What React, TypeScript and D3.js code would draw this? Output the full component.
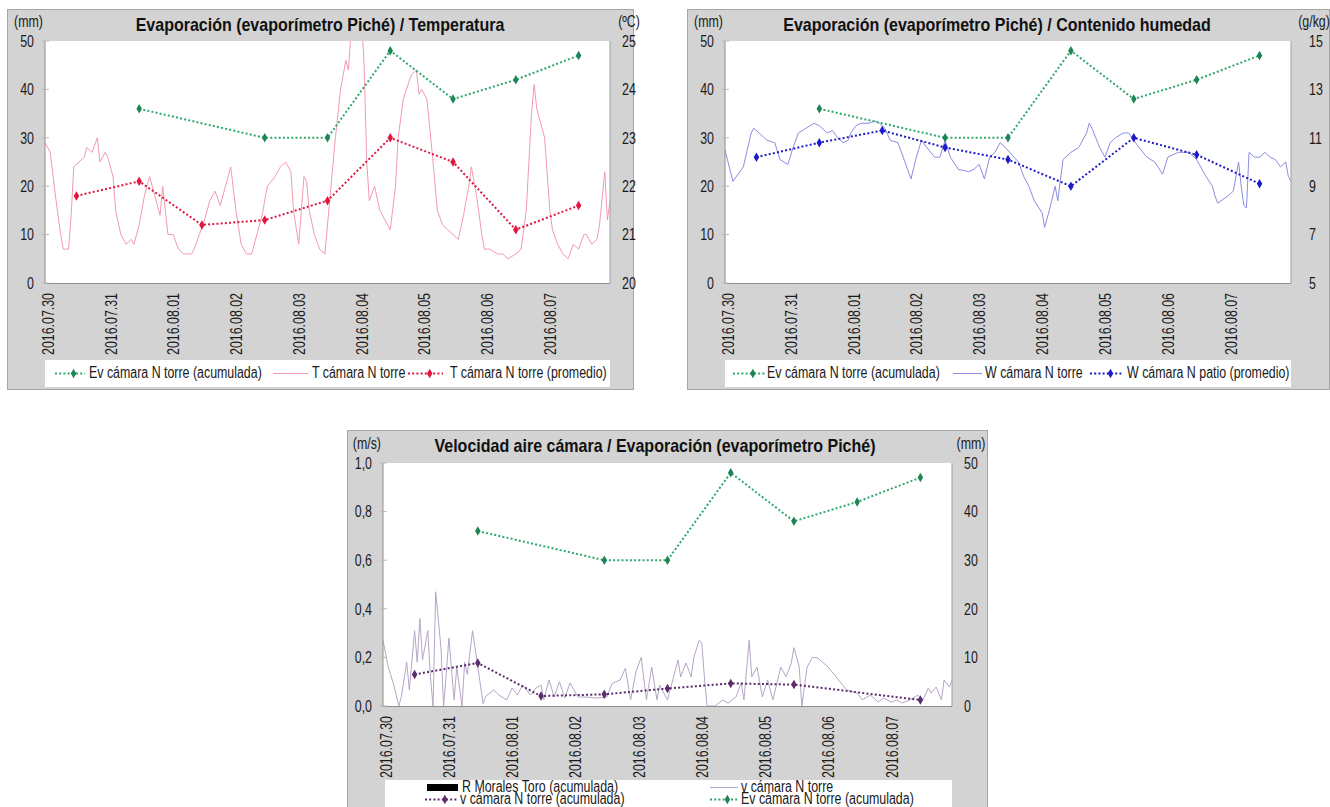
import React from 'react';
import * as d3 from 'd3';

const FONT = "'Liberation Sans', Arial, sans-serif";
const NARROW = 0.775;
const TEXT_SIZE = 16;

const DAY_LABELS = ['2016.07.30', '2016.07.31', '2016.08.01', '2016.08.02', '2016.08.03', '2016.08.04', '2016.08.05', '2016.08.06', '2016.08.07'];
const START = new Date(2016, 6, 30);
const END = new Date(2016, 7, 8);

// Piché evaporimeter, accumulated evaporation (mm), read at noon
const EV_DATES = ['2016-07-31', '2016-08-02', '2016-08-03', '2016-08-04', '2016-08-05', '2016-08-06', '2016-08-07'];
const EV_MM = [36, 30, 30, 48, 38, 42, 47];

// Daily means
const AVG_DATES = ['2016-07-30', '2016-07-31', '2016-08-01', '2016-08-02', '2016-08-03', '2016-08-04', '2016-08-05', '2016-08-06', '2016-08-07'];
const T_AVG = [21.8, 22.1, 21.2, 21.3, 21.7, 23.0, 22.5, 21.1, 21.6];
const W_AVG = [10.2, 10.8, 11.3, 10.6, 10.1, 9.0, 11.0, 10.3, 9.1];
const V_AVG_DATES = ['2016-07-30', '2016-07-31', '2016-08-01', '2016-08-02', '2016-08-03', '2016-08-04', '2016-08-05', '2016-08-07'];
const V_AVG = [0.13, 0.177, 0.041, 0.048, 0.072, 0.093, 0.088, 0.025];

// Chamber records: [hours since 30 Jul 00:00, value]
const T_RAW: [number, number][] = [
  [0, 22.9], [2, 22.7], [4, 21.8], [6, 21.0], [7, 20.7], [9, 20.7], [10, 21.4], [11, 22.4], [13, 22.5], [15, 22.6],
  [16, 22.8], [18, 22.7], [20, 23.0], [21, 22.5], [23, 22.7], [24, 22.6], [26, 22.2], [27, 21.5], [29, 21.0], [31, 20.8],
  [33, 20.9], [34, 20.8], [36, 21.2], [38, 21.8], [40, 22.2], [42, 21.8], [44, 21.4], [45, 22.0], [47, 21.0], [49, 21.0],
  [51, 20.7], [53, 20.6], [56, 20.6], [57, 20.7], [59, 21.0], [61, 21.3], [63, 21.7], [65, 21.9], [67, 21.6], [69, 22.0],
  [71, 22.4], [73, 21.5], [75, 20.8], [77, 20.6], [79, 20.6], [82, 21.2], [83, 21.4], [85, 22.0], [88, 22.2], [90, 22.4],
  [92, 22.5], [94, 22.3], [95, 21.5], [97, 20.8], [99, 22.2], [100, 22.1], [101, 21.5], [103, 21.0], [105, 20.7], [107, 20.6],
  [109, 21.8], [111, 23.0], [113, 24.0], [115, 24.6], [116, 24.4], [117, 25.2], [118, 25.6], [119, 25.2], [121, 25.5], [122, 24.5],
  [123, 22.5], [124, 21.7], [126, 22.0], [128, 21.5], [130, 21.3], [132, 21.1], [134, 22.0], [135, 23.0], [137, 23.8], [140, 24.3],
  [142, 24.4], [143, 23.9], [144, 24.0], [146, 23.8], [148, 22.7], [150, 21.5], [152, 21.2], [154, 21.1], [156, 21.0], [158, 20.9],
  [160, 21.4], [162, 22.0], [163, 22.4], [165, 21.8], [167, 21.0], [168, 20.7], [170, 20.7], [173, 20.6], [175, 20.6], [177, 20.5],
  [180, 20.6], [182, 20.7], [184, 21.5], [186, 23.5], [187, 24.1], [188, 23.6], [189, 23.4], [191, 23.0], [193, 21.5], [194, 21.1],
  [196, 20.8], [198, 20.6], [200, 20.5], [202, 20.8], [204, 20.7], [206, 21.0], [207, 21.0], [209, 20.8], [211, 20.9], [212, 21.2],
  [214, 22.3], [215, 21.3], [216, 21.7],
];

const W_RAW: [number, number][] = [
  [0, 10.5], [3, 9.2], [7, 9.8], [10, 11.2], [11, 11.4], [13, 11.2], [16, 10.9], [19, 10.8], [21, 10.1], [24, 9.9],
  [26, 10.6], [28, 11.2], [31, 11.4], [34, 11.6], [36, 11.5], [39, 11.2], [41, 11.3], [43, 11.0], [45, 10.8], [47, 10.9],
  [48, 11.2], [50, 11.5], [52, 11.6], [55, 11.6], [57, 11.7], [59, 11.6], [61, 11.4], [63, 10.9], [66, 10.8], [68, 10.2],
  [71, 9.3], [73, 10.2], [75, 10.9], [77, 10.6], [80, 10.2], [82, 10.2], [84, 10.9], [86, 10.2], [89, 9.7], [93, 9.6],
  [95, 9.7], [97, 9.9], [99, 9.3], [101, 10.2], [103, 10.4], [105, 10.8], [107, 10.6], [112, 10.0], [114, 9.4], [116, 9.0],
  [118, 8.4], [121, 7.9], [122, 7.3], [124, 8.1], [126, 9.0], [127, 8.4], [129, 10.1], [132, 10.4], [135, 10.6], [138, 11.2],
  [139, 11.6], [140, 11.4], [143, 10.6], [145, 10.2], [147, 10.8], [149, 11.0], [152, 11.2], [154, 11.2], [158, 10.6], [161, 10.2],
  [164, 10.0], [167, 9.5], [169, 10.2], [173, 10.4], [177, 10.4], [180, 10.1], [183, 9.5], [186, 9.0], [187, 8.6], [188, 8.3],
  [192, 8.6], [194, 8.8], [196, 10.0], [197, 9.0], [198, 8.2], [199, 8.1], [200, 10.4], [202, 10.2], [204, 10.2], [206, 10.4],
  [208, 10.2], [210, 10.1], [212, 9.8], [214, 10.0], [215, 9.4], [216, 9.2],
];

const V_RAW: [number, number][] = [
  [0, 0.27], [2, 0.16], [4, 0.09], [6, 0], [7, 0.04], [9, 0.18], [10, 0.066], [12, 0.31], [13, 0.18], [14, 0.36],
  [15, 0.19], [17, 0.31], [18, 0.12], [19, 0], [20, 0.47], [22, 0.24], [23, 0], [24, 0.13], [25, 0.28], [27, 0.025],
  [28, 0.16], [30, 0], [31, 0.18], [32, 0.13], [34, 0.31], [36, 0.16], [38, 0.01], [39, 0.04], [42, 0.066], [44, 0.045],
  [47, 0.025], [49, 0.074], [51, 0.045], [53, 0.086], [56, 0.045], [58, 0.074], [60, 0.086], [61, 0.025], [63, 0.107], [65, 0.037],
  [67, 0.1], [69, 0.033], [71, 0.095], [74, 0.037], [77, 0.037], [81, 0.033], [85, 0.037], [87, 0.093], [90, 0.107], [92, 0.155],
  [94, 0.025], [96, 0.14], [98, 0.2], [100, 0.025], [102, 0.16], [104, 0.025], [105, 0.086], [108, 0.025], [110, 0.107], [112, 0.19],
  [113, 0.12], [115, 0.177], [117, 0.12], [118, 0.2], [120, 0.27], [121, 0.26], [122, 0.12], [123, 0], [126, 0], [129, 0.025],
  [131, 0.012], [134, 0.037], [136, 0.095], [137, 0.025], [139, 0.27], [140, 0.12], [142, 0.16], [144, 0.037], [146, 0.107], [148, 0.025],
  [151, 0.16], [153, 0.12], [155, 0.177], [156, 0.24], [158, 0.16], [159, 0], [161, 0.16], [163, 0.2], [165, 0.198], [169, 0.16],
  [172, 0.12], [176, 0.066], [180, 0.053], [182, 0.025], [185, 0.045], [188, 0.016], [190, 0.033], [193, 0.016], [195, 0.025], [197, 0.012],
  [200, 0.025], [203, 0.045], [205, 0.025], [207, 0.074], [208, 0.053], [210, 0.078], [212, 0.025], [213, 0.107], [215, 0.078], [216, 0.107],
];

const MM_TICKS = [0, 10, 20, 30, 40, 50];
const T_TICKS = [20, 21, 22, 23, 24, 25];
const W_TICKS = [5, 7, 9, 11, 13, 15];
const V_TICKS = [0, 0.2, 0.4, 0.6, 0.8, 1.0];

const esLocale = d3.formatLocale({ decimal: ',', thousands: '.', grouping: [3], currency: ['', ' €'] });
const fmtComma1 = esLocale.format('.1f');
const fmtInt = d3.format('d');

const parseDay = d3.timeParse('%Y-%m-%d');
const atNoon = (s: string) => d3.timeHour.offset(parseDay(s) as Date, 12);
const atHour = (h: number) => d3.timeMinute.offset(START, Math.round(h * 60));

const zipNoon = (dates: string[], vals: number[]): [Date, number][] => dates.map((d, i) => [atNoon(d), vals[i]]);
const fromHours = (rows: [number, number][]): [Date, number][] => rows.map(([h, v]) => [atHour(h), v]);

const GREEN = '#2fa86c';
const GREEN_MARK = '#1d8453';
const RED = '#e2153f';
const PINK = '#f29aae';
const BLUE = '#1c1cc8';
const LAVENDER = '#8c8ce2';
const PURPLE = '#5a2c6c';
const MAUVE = '#b7a5c8';

type Lay = { px: number; py: number; pw: number; ph: number; l: number; t: number; r: number; b: number };
type Series = { kind: 'raw' | 'dotted'; axis: 'left' | 'right'; data: [Date, number][]; color: string; mark?: string };
type LegendItem = { kind: 'raw' | 'dotted' | 'bar'; color: string; mark?: string; sx: number; sw: number; tx: number; y: number; label: string };

function NText(props: { x: number; y: number; anchor?: string; size?: number; rotate?: number; scale?: number; weight?: string; fill?: string; dy?: string; children: React.ReactNode }) {
  const { x, y, anchor = 'start', size = TEXT_SIZE, rotate = 0, scale = NARROW, weight = 'normal', fill = '#1a1a1a', dy } = props;
  return (
    <text
      transform={`translate(${x},${y}) rotate(${rotate}) scale(${scale},1)`}
      textAnchor={anchor}
      fontSize={size}
      fontWeight={weight}
      fill={fill}
      dy={dy}
      fontFamily={FONT}
    >
      {props.children}
    </text>
  );
}

type ChartProps = {
  id: string;
  lay: Lay;
  title: string;
  titleX: number;
  leftUnit: string;
  rightUnit: string;
  rightUnitX: number;
  leftDomain: [number, number];
  leftTicks: number[];
  leftFmt: (v: number) => string;
  rightDomain: [number, number];
  rightTicks: number[];
  rightFmt: (v: number) => string;
  rightLabelX: number;
  series: Series[];
  legendBox: { x: number; y: number; w: number; h: number };
  legend: LegendItem[];
};

function Chart(p: ChartProps) {
  const { lay } = p;
  const x = d3.scaleTime().domain([START, END]).range([lay.l, lay.r]);
  const yL = d3.scaleLinear().domain(p.leftDomain).range([lay.b, lay.t]);
  const yR = d3.scaleLinear().domain(p.rightDomain).range([lay.b, lay.t]);
  const diamond = d3.symbol().type(d3.symbolDiamond).size(26)() as string;
  const clipId = `plot-clip-${p.id}`;
  const days = d3.timeDay.range(START, END);

  const pathOf = (s: Series) => {
    const y = s.axis === 'left' ? yL : yR;
    return d3.line<[Date, number]>().x((d) => x(d[0])).y((d) => y(d[1]))(s.data) as string;
  };

  return (
    <g>
      <rect x={lay.px + 0.5} y={lay.py + 0.5} width={lay.pw} height={lay.ph} fill="#d3d3d3" stroke="#a6a6a6" />
      <rect x={lay.l} y={lay.t} width={lay.r - lay.l} height={lay.b - lay.t} fill="#ffffff" />
      <defs>
        <clipPath id={clipId}>
          <rect x={lay.l} y={lay.t} width={lay.r - lay.l} height={lay.b - lay.t} />
        </clipPath>
      </defs>

      <g clipPath={`url(#${clipId})`}>
        {p.series.filter((s) => s.kind === 'raw').map((s, i) => (
          <path key={i} d={pathOf(s)} fill="none" stroke={s.color} strokeWidth={1} strokeLinejoin="round" />
        ))}
      </g>
      {p.series.filter((s) => s.kind === 'dotted').map((s, i) => {
        const y = s.axis === 'left' ? yL : yR;
        return (
          <g key={i}>
            <path d={pathOf(s)} fill="none" stroke={s.color} strokeWidth={2} strokeDasharray="2 2.2" />
            {s.data.map((d, j) => (
              <path key={j} d={diamond} transform={`translate(${x(d[0])},${y(d[1])})`} fill={s.mark || s.color} />
            ))}
          </g>
        );
      })}

      {/* axes */}
      <line x1={lay.l} x2={lay.l} y1={lay.t} y2={lay.b} stroke="#8e8e8e" />
      <line x1={lay.r} x2={lay.r} y1={lay.t} y2={lay.b} stroke="#a0a0a0" />
      <line x1={lay.l} x2={lay.r} y1={lay.b + 0.5} y2={lay.b + 0.5} stroke="#8e8e8e" />
      {p.leftTicks.map((t) => (
        <g key={`l${t}`}>
          <line x1={lay.l - 3} x2={lay.l + 4} y1={yL(t)} y2={yL(t)} stroke="#b8b8b8" />
          <NText x={lay.l - 11} y={yL(t)} anchor="end" dy="0.36em">{p.leftFmt(t)}</NText>
        </g>
      ))}
      {p.rightTicks.map((t) => (
        <NText key={`r${t}`} x={p.rightLabelX} y={yR(t)} dy="0.36em">{p.rightFmt(t)}</NText>
      ))}
      <NText x={lay.l - 2} y={lay.t - 14} anchor="end">{p.leftUnit}</NText>
      <NText x={p.rightUnitX} y={lay.t - 14} anchor="middle">{p.rightUnit}</NText>

      {days.map((d, i) => (
        <NText key={i} x={x(d) + 3} y={lay.b + 10} rotate={-90} anchor="end" dy="0.36em">{DAY_LABELS[i]}</NText>
      ))}

      <NText x={p.titleX} y={lay.py + 22} anchor="middle" size={18} scale={0.89} weight="bold" fill="#111">{p.title}</NText>

      <rect x={p.legendBox.x} y={p.legendBox.y} width={p.legendBox.w} height={p.legendBox.h} fill="#ffffff" />
      {p.legend.map((it, i) => {
        const ly = it.y - 4.5;
        return (
          <g key={i}>
            {it.kind === 'bar' && <rect x={it.sx} y={ly - 3.5} width={it.sw} height={7} fill="#000" />}
            {it.kind === 'raw' && <line x1={it.sx} x2={it.sx + it.sw} y1={ly} y2={ly} stroke={it.color} strokeWidth={1} />}
            {it.kind === 'dotted' && (
              <g>
                <line x1={it.sx} x2={it.sx + it.sw} y1={ly} y2={ly} stroke={it.color} strokeWidth={2} strokeDasharray="2 2.2" />
                <path d={diamond} transform={`translate(${it.sx + it.sw * 0.62},${ly})`} fill={it.mark || it.color} />
              </g>
            )}
            <NText x={it.tx} y={it.y}>{it.label}</NText>
          </g>
        );
      })}
    </g>
  );
}

const ev = zipNoon(EV_DATES, EV_MM);

export default function App() {
  return (
    <svg width={1330} height={807} style={{ position: 'absolute', left: 0, top: 0, display: 'block', background: '#fff' }}>
      <Chart
        id="temp"
        lay={{ px: 7, py: 9, pw: 626, ph: 380, l: 45, t: 41, r: 610, b: 283 }}
        title="Evaporación (evaporímetro Piché) / Temperatura"
        titleX={320}
        leftUnit="(mm)"
        rightUnit="(ºC)"
        rightUnitX={629}
        leftDomain={[0, 50]}
        leftTicks={MM_TICKS}
        leftFmt={fmtInt}
        rightDomain={[20, 25]}
        rightTicks={T_TICKS}
        rightFmt={fmtInt}
        rightLabelX={622}
        series={[
          { kind: 'raw', axis: 'right', data: fromHours(T_RAW), color: PINK },
          { kind: 'dotted', axis: 'left', data: ev, color: GREEN, mark: GREEN_MARK },
          { kind: 'dotted', axis: 'right', data: zipNoon(AVG_DATES, T_AVG), color: RED },
        ]}
        legendBox={{ x: 45, y: 360, w: 565, h: 27 }}
        legend={[
          { kind: 'dotted', color: GREEN, mark: GREEN_MARK, sx: 55, sw: 30, tx: 89, y: 378, label: 'Ev cámara N torre (acumulada)' },
          { kind: 'raw', color: PINK, sx: 273, sw: 35, tx: 312, y: 378, label: 'T cámara N torre' },
          { kind: 'dotted', color: RED, sx: 408, sw: 35, tx: 450, y: 378, label: 'T cámara N torre (promedio)' },
        ]}
      />
      <Chart
        id="hum"
        lay={{ px: 687, py: 9, pw: 642, ph: 380, l: 725, t: 41, r: 1291, b: 283 }}
        title="Evaporación (evaporímetro Piché) / Contenido humedad"
        titleX={997}
        leftUnit="(mm)"
        rightUnit="(g/kg)"
        rightUnitX={1314}
        leftDomain={[0, 50]}
        leftTicks={MM_TICKS}
        leftFmt={fmtInt}
        rightDomain={[5, 15]}
        rightTicks={W_TICKS}
        rightFmt={fmtInt}
        rightLabelX={1309}
        series={[
          { kind: 'raw', axis: 'right', data: fromHours(W_RAW), color: LAVENDER },
          { kind: 'dotted', axis: 'left', data: ev, color: GREEN, mark: GREEN_MARK },
          { kind: 'dotted', axis: 'right', data: zipNoon(AVG_DATES, W_AVG), color: BLUE },
        ]}
        legendBox={{ x: 725, y: 360, w: 566, h: 27 }}
        legend={[
          { kind: 'dotted', color: GREEN, mark: GREEN_MARK, sx: 733, sw: 32, tx: 767, y: 378, label: 'Ev cámara N torre (acumulada)' },
          { kind: 'raw', color: LAVENDER, sx: 953, sw: 29, tx: 985, y: 378, label: 'W cámara N torre' },
          { kind: 'dotted', color: BLUE, sx: 1090, sw: 33, tx: 1127, y: 378, label: 'W cámara N patio (promedio)' },
        ]}
      />
      <Chart
        id="wind"
        lay={{ px: 347, py: 430, pw: 640, ph: 400, l: 383, t: 463, r: 952, b: 706 }}
        title="Velocidad aire cámara / Evaporación (evaporímetro Piché)"
        titleX={655}
        leftUnit="(m/s)"
        rightUnit="(mm)"
        rightUnitX={971}
        leftDomain={[0, 1]}
        leftTicks={V_TICKS}
        leftFmt={fmtComma1}
        rightDomain={[0, 50]}
        rightTicks={MM_TICKS}
        rightFmt={fmtInt}
        rightLabelX={964}
        series={[
          { kind: 'raw', axis: 'left', data: fromHours(V_RAW), color: MAUVE },
          { kind: 'dotted', axis: 'right', data: ev, color: GREEN, mark: GREEN_MARK },
          { kind: 'dotted', axis: 'left', data: zipNoon(V_AVG_DATES, V_AVG), color: PURPLE },
        ]}
        legendBox={{ x: 385, y: 780, w: 567, h: 40 }}
        legend={[
          { kind: 'bar', color: '#000', sx: 427, sw: 31, tx: 462, y: 792, label: 'R Morales Toro (acumulada)' },
          { kind: 'raw', color: MAUVE, sx: 710, sw: 28, tx: 741, y: 792, label: 'v cámara N torre' },
          { kind: 'dotted', color: PURPLE, sx: 425, sw: 32, tx: 460, y: 804, label: 'v cámara N torre (acumulada)' },
          { kind: 'dotted', color: GREEN, mark: GREEN_MARK, sx: 710, sw: 28, tx: 741, y: 804, label: 'Ev cámara N torre (acumulada)' },
        ]}
      />
    </svg>
  );
}
